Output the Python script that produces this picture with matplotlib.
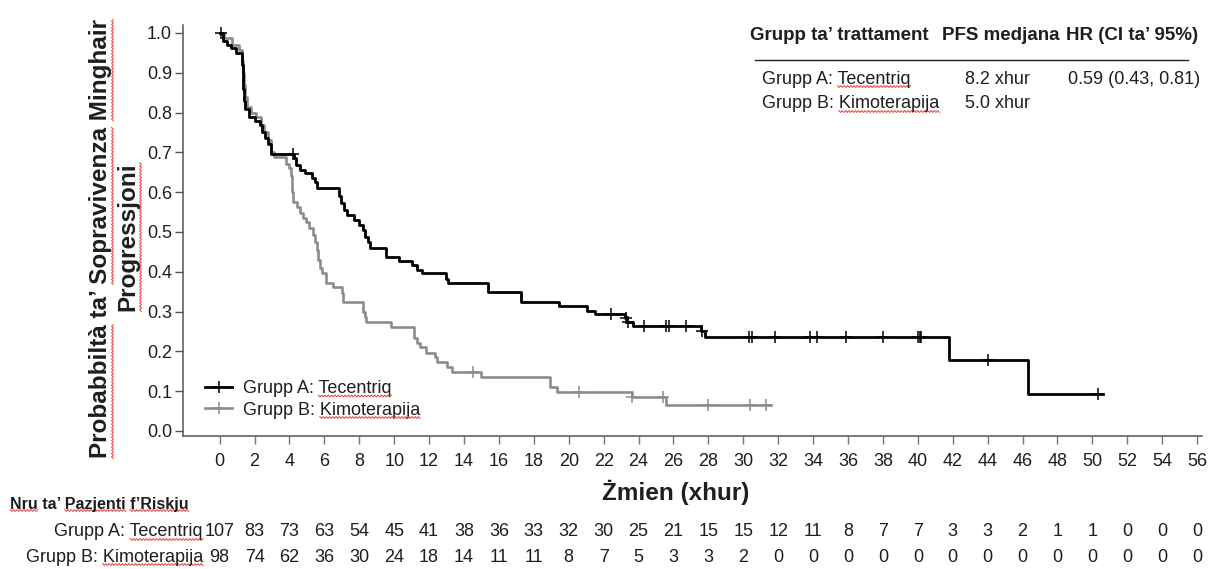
import numpy as np
import matplotlib
matplotlib.use("Agg")
import matplotlib.pyplot as plt
from matplotlib.lines import Line2D
import matplotlib.transforms as mtransforms

plt.rcParams['font.family'] = ['Liberation Sans', 'DejaVu Sans']

# ---------------- data ----------------
x_ticks = list(range(0, 57, 2))
y_ticks = [0.0, 0.1, 0.2, 0.3, 0.4, 0.5, 0.6, 0.7, 0.8, 0.9, 1.0]

label_a = "Grupp A: Tecentriq"
label_b = "Grupp B: Kimoterapija"

# Group A (Tecentriq) Kaplan-Meier step times and survival after each step
time_a = [0, 0.2, 0.4, 0.65, 0.95, 1.28, 1.32, 1.36, 1.40, 1.45, 1.7, 2.0, 2.3, 2.45, 2.6,
          2.75, 2.95, 4.25, 4.35, 4.6, 4.9, 5.3, 5.45, 5.6, 6.85, 6.95, 7.1, 7.3, 7.7,
          8.0, 8.2, 8.3, 8.5, 8.6, 9.55, 10.25, 11.0, 11.3, 11.6, 12.95, 13.1, 15.4,
          17.25, 19.45, 21.05, 21.5, 23.25, 23.35, 23.7, 27.6, 27.8, 41.8, 46.3]
surv_a = [1.0, 0.98, 0.97, 0.962, 0.95, 0.92, 0.89, 0.86, 0.83, 0.81, 0.79, 0.78, 0.77, 0.75,
          0.735, 0.72, 0.697, 0.686, 0.668, 0.656, 0.648, 0.636, 0.625, 0.61, 0.59, 0.573,
          0.555, 0.543, 0.53, 0.518, 0.505, 0.487, 0.475, 0.46, 0.438, 0.427, 0.417, 0.405,
          0.397, 0.383, 0.372, 0.35, 0.325, 0.314, 0.302, 0.294, 0.283, 0.275, 0.264, 0.25,
          0.236, 0.178, 0.093]
end_a = 50.6
cens_a = [0.1, 4.2, 22.4, 23.3, 23.4, 24.3, 25.6, 25.75, 26.7, 27.65, 30.3, 30.5, 31.8,
          33.8, 34.2, 35.9, 38.0, 40.0, 40.1, 40.2, 44.0, 50.3]

# Group B (Kimoterapija)
time_b = [0, 0.25, 0.7, 1.1, 1.3, 1.35, 1.4, 1.45, 1.55, 1.8, 2.1, 2.35, 2.55, 2.75, 2.95,
          3.1, 3.8, 4.0, 4.08, 4.12, 4.15, 4.2, 4.45, 4.6, 4.8, 4.95, 5.1, 5.35, 5.45, 5.55,
          5.65, 5.75, 5.85, 6.1, 6.5, 7.0, 7.05, 8.2, 8.3, 8.4, 9.8, 11.15, 11.3, 11.5, 11.8,
          12.35, 12.45, 13.0, 13.3, 15.0, 18.95, 19.3, 23.6, 25.6]
surv_b = [1.0, 0.987, 0.97, 0.957, 0.93, 0.9, 0.87, 0.84, 0.814, 0.80, 0.79, 0.77, 0.75, 0.73,
          0.70, 0.689, 0.672, 0.66, 0.64, 0.623, 0.60, 0.576, 0.563, 0.547, 0.535, 0.526,
          0.51, 0.493, 0.475, 0.455, 0.43, 0.41, 0.397, 0.372, 0.362, 0.347, 0.325, 0.30,
          0.287, 0.274, 0.262, 0.234, 0.22, 0.21, 0.197, 0.185, 0.174, 0.16, 0.149, 0.136,
          0.111, 0.099, 0.086, 0.065]
end_b = 31.6
cens_b = [14.5, 20.6, 23.65, 25.4, 28.0, 30.4, 31.3]

risk_a = [107, 83, 73, 63, 54, 45, 41, 38, 36, 33, 32, 30, 25, 21, 15, 15, 12, 11, 8, 7, 7,
          3, 3, 2, 1, 1, 0, 0, 0]
risk_b = [98, 74, 62, 36, 30, 24, 18, 14, 11, 11, 8, 7, 5, 3, 3, 2, 0, 0, 0, 0, 0, 0, 0, 0,
          0, 0, 0, 0, 0]

table_header = ["Grupp ta\u2019 trattament", "PFS medjana", "HR (CI ta\u2019 95%)"]
table_rows = [[label_a, "8.2 xhur", "0.59 (0.43, 0.81)"],
              [label_b, "5.0 xhur", ""]]

ylabel_lines = ["Probabbilt\u00e0 ta\u2019 Sopravivenza Minghair", "Progressjoni"]
xlabel = "\u017bmien (xhur)"
risk_title = "Nru ta\u2019 Pazjenti f\u2019Riskju"

# ---------------- figure ----------------
W, H = 1208, 569
fig = plt.figure(figsize=(W / 100, H / 100), dpi=100)


def fx(x):
    return x / W


def fy(y):
    return 1 - y / H


ax = fig.add_axes([fx(183), fy(436), (1202 - 183) / W, (436 - 25) / H])
ax.set_xlim(-2.1, 56.28)
ax.set_ylim(-0.0126, 1.020)

col_a = "#000000"
col_b = "#8c8c8c"
txt = "#1e1e1e"


def draw(times, surv, end, cens, color, lw):
    t = list(times) + [end]
    s = list(surv) + [surv[-1]]
    ax.step(t, s, where="post", color=color, lw=lw, zorder=3)
    idx = np.searchsorted(np.asarray(times), np.asarray(cens), side="right") - 1
    cy = np.asarray(surv)[idx]
    ax.plot(cens, cy, ls="none", marker="+", ms=8, mew=1.1, color=color, zorder=4)


draw(time_b, surv_b, end_b, cens_b, col_b, 1.9)
draw(time_a, surv_a, end_a, cens_a, col_a, 2.0)

for s in ["top", "right"]:
    ax.spines[s].set_visible(False)
for s in ["left", "bottom"]:
    ax.spines[s].set_color("#555555")
    ax.spines[s].set_linewidth(1.1)

ax.set_xticks(x_ticks)
ax.set_yticks(y_ticks)
ax.set_yticklabels([f"{v:.1f}" for v in y_ticks])
ax.tick_params(axis="x", direction="out", length=6, width=1, color="#777777",
               labelsize=13, labelcolor=txt, pad=6)
ax.tick_params(axis="y", direction="out", length=6, width=1, color="#555555",
               labelsize=13, labelcolor=txt, pad=2)

# axis labels
yl1 = fig.text(fx(100), fy(239), ylabel_lines[0], rotation=90, ha="center", va="center",
               fontsize=17.5, fontweight="bold", color=txt)
yl2 = fig.text(fx(128), fy(237), ylabel_lines[1], rotation=90, ha="center", va="center",
               fontsize=17.5, fontweight="bold", color=txt)
fig.text(fx(676), fy(492), xlabel, ha="center", va="center",
         fontsize=17.5, fontweight="bold", color=txt)

# legend
handles = [Line2D([], [], color=col_a, lw=2.0, marker="+", ms=8, mew=1.1),
           Line2D([], [], color=col_b, lw=1.9, marker="+", ms=8, mew=1.1)]
leg = ax.legend(handles, [label_a, label_b], loc="upper left",
                bbox_to_anchor=(fx(205), fy(380)), bbox_transform=fig.transFigure,
                frameon=False, fontsize=13, handlelength=1.5, handletextpad=0.6,
                borderpad=0, borderaxespad=0, labelspacing=0.25)
for t in leg.get_texts():
    t.set_color(txt)

# treatment table (top right)
hx = [750, 942, 1066]
for x, s in zip(hx, table_header):
    fig.text(fx(x), fy(35), s, ha="left", va="center", fontsize=13.5,
             fontweight="bold", color=txt)
fig.add_artist(Line2D([fx(755), fx(1188)], [fy(60), fy(60)], color="#222222", lw=1.0))
rx = [762, 965, 1068]
table_texts = []
for ry, row in zip([79, 104], table_rows):
    for x, s in zip(rx, row):
        t = fig.text(fx(x), fy(ry), s, ha="left", va="center", fontsize=13, color=txt)
        table_texts.append(t)

# risk table
rt = fig.text(fx(10), fy(504), risk_title, ha="left", va="center",
              fontsize=11.5, fontweight="bold", color=txt)
trans = mtransforms.blended_transform_factory(ax.transData, fig.transFigure)
risk_labels = []
for ry, lab, vals in [(532, label_a, risk_a), (557, label_b, risk_b)]:
    risk_labels.append(fig.text(fx(203), fy(ry), lab, ha="right", va="center",
                                fontsize=13, color=txt))
    for xv, v in zip(x_ticks, vals):
        ax.text(xv, fy(ry), str(v), transform=trans, ha="center", va="center",
                fontsize=13, color=txt, clip_on=False)

# ---------------- spell-check style red wavy underlines ----------------
fig.canvas.draw()
renderer = fig.canvas.get_renderer()


def str_width(s, ref):
    t = fig.text(0, 0, s, fontproperties=ref.get_fontproperties())
    w = t.get_window_extent(renderer).width
    t.remove()
    return w


def wave(a, b, c, vertical=False):
    n = max(int((b - a) / 1.6), 2)
    u = np.linspace(a, b, n)
    v = c + np.where(np.arange(n) % 2 == 0, 1.0, -1.0)
    if vertical:
        xs, ys = v, u
    else:
        xs, ys = u, v
    fig.add_artist(Line2D(xs / W, ys / H, transform=fig.transFigure,
                          color="#e8403a", lw=0.7, solid_joinstyle="miter"))


def underline(textobj, words, vertical=False):
    s = textobj.get_text()
    bb = textobj.get_window_extent(renderer)
    for w in words:
        i = s.find(w)
        if i < 0:
            continue
        end = str_width(s[:i + len(w)], textobj)
        start = end - str_width(w, textobj)
        if vertical:
            wave(bb.y0 + start, bb.y0 + end, bb.x1 + 1, vertical=True)
        else:
            wave(bb.x0 + start, bb.x0 + end, bb.y0 + 1)


underline(yl1, ["Probabbilt\u00e0", "Sopravivenza", "Minghair"], vertical=True)
underline(yl2, ["Progressjoni"], vertical=True)
underline(rt, ["Nru", "Pazjenti", "f\u2019Riskju"])
for t in list(leg.get_texts()) + table_texts + risk_labels:
    underline(t, ["Tecentriq", "Kimoterapija"])

fig.savefig("out.png", dpi=100)
